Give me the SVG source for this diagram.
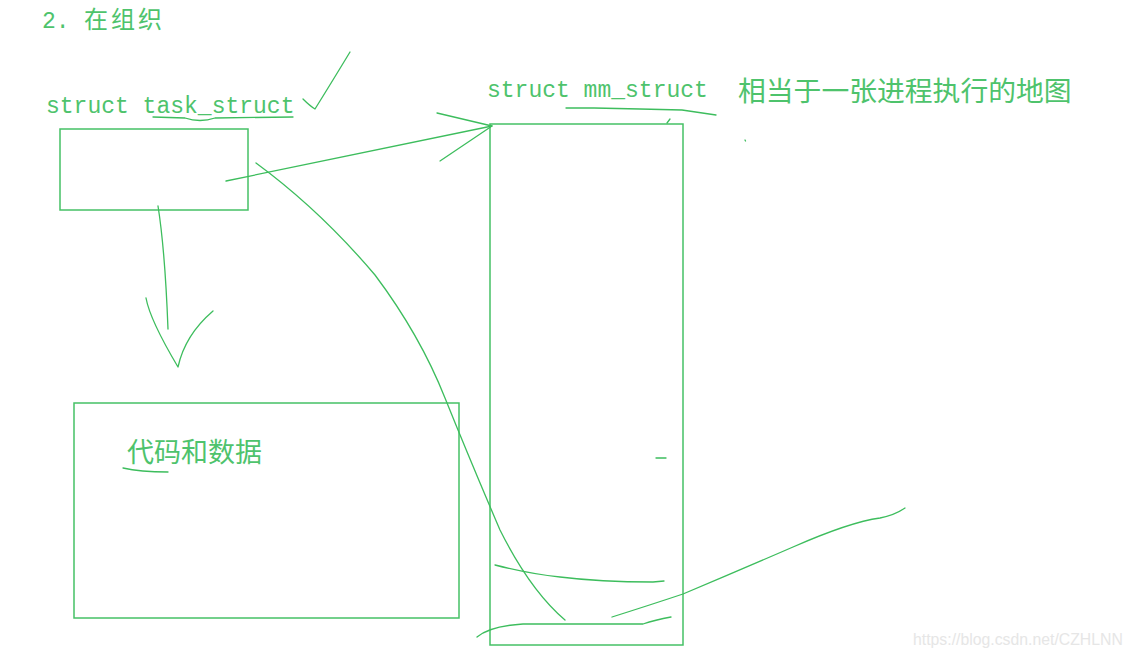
<svg xmlns="http://www.w3.org/2000/svg" width="1132" height="658" viewBox="0 0 1132 658">
<style>
.box{fill:none;stroke:#46c166;stroke-width:1.5}
.ln{fill:none;stroke:#3dbd5d;stroke-width:1.3;stroke-linecap:round;stroke-linejoin:round}
.mono{font-family:"Liberation Mono","DejaVu Sans Mono",monospace;font-size:23px;fill:#4ec36c}
.cjk{font-family:"Noto Sans CJK SC","Noto Sans",sans-serif;fill:#4ec36c}
.wm{font-family:"Liberation Sans",Arial,sans-serif;font-size:15.8px;fill:#e6e6e6}
</style>
<rect width="1132" height="658" fill="#ffffff"/>
<g id="title">
<text x="42" y="28" class="mono">2. </text>
<text x="84" y="28" class="cjk" font-size="24" letter-spacing="3">在组织</text>
</g>
<g id="task_struct">
<text x="46" y="113" class="mono">struct task_struct</text>
<rect x="60" y="129" width="188" height="81" class="box"/>
</g>
<g id="mm_struct">
<text x="487" y="97" class="mono">struct mm_struct</text>
<text x="738" y="101" class="cjk" font-size="27.8">相当于一张进程执行的地图</text>
<rect x="490" y="124" width="193" height="521" class="box"/>
</g>
<g id="code_data">
<rect x="74" y="403" width="385" height="215" class="box"/>
<text x="127" y="462" class="cjk" font-size="27">代码和数据</text>
</g>
<g id="connectors">
<path class="ln" d="M303,99 Q310,106 315,109 Q330,85 350,52"/>
<path class="ln" d="M153,117 L185,118 Q200,123 215,118 L293,117"/>
<path class="ln" d="M566,108 L594,108 L640,109 L682,110 L716,115"/>
<path class="ln" d="M123,468 Q140,472 168,472"/>
<path class="ln" d="M226,181 L492,126"/>
<path class="ln" d="M437,113 L492,126 L440,161"/>
<path class="ln" d="M158,206 Q165,250 168,329"/>
<path class="ln" d="M146,298 Q150,320 178,367 Q185,335 213,311"/>
<path class="ln" d="M256,163 Q320,210 375,275 Q420,335 445,398 Q470,460 500,530 Q530,590 565,620"/>
<path class="ln" d="M495,565 Q530,574 560,577 Q600,582 653,582 L664,581"/>
<path class="ln" d="M477,637 Q490,626 523,624 L643,624 Q655,620 671,617"/>
<path class="ln" d="M612,617 Q650,605 683,594 Q740,570 793,547 Q850,522 880,518 Q895,515 905,508"/>
<path class="ln" d="M667,123 L670,119"/>
<path class="ln" d="M745,140 L745.5,141"/>
<path class="ln" d="M656,458 L666,458"/>
</g>
<text x="913" y="645" class="wm">https://blog.csdn.net/CZHLNN</text>
</svg>
